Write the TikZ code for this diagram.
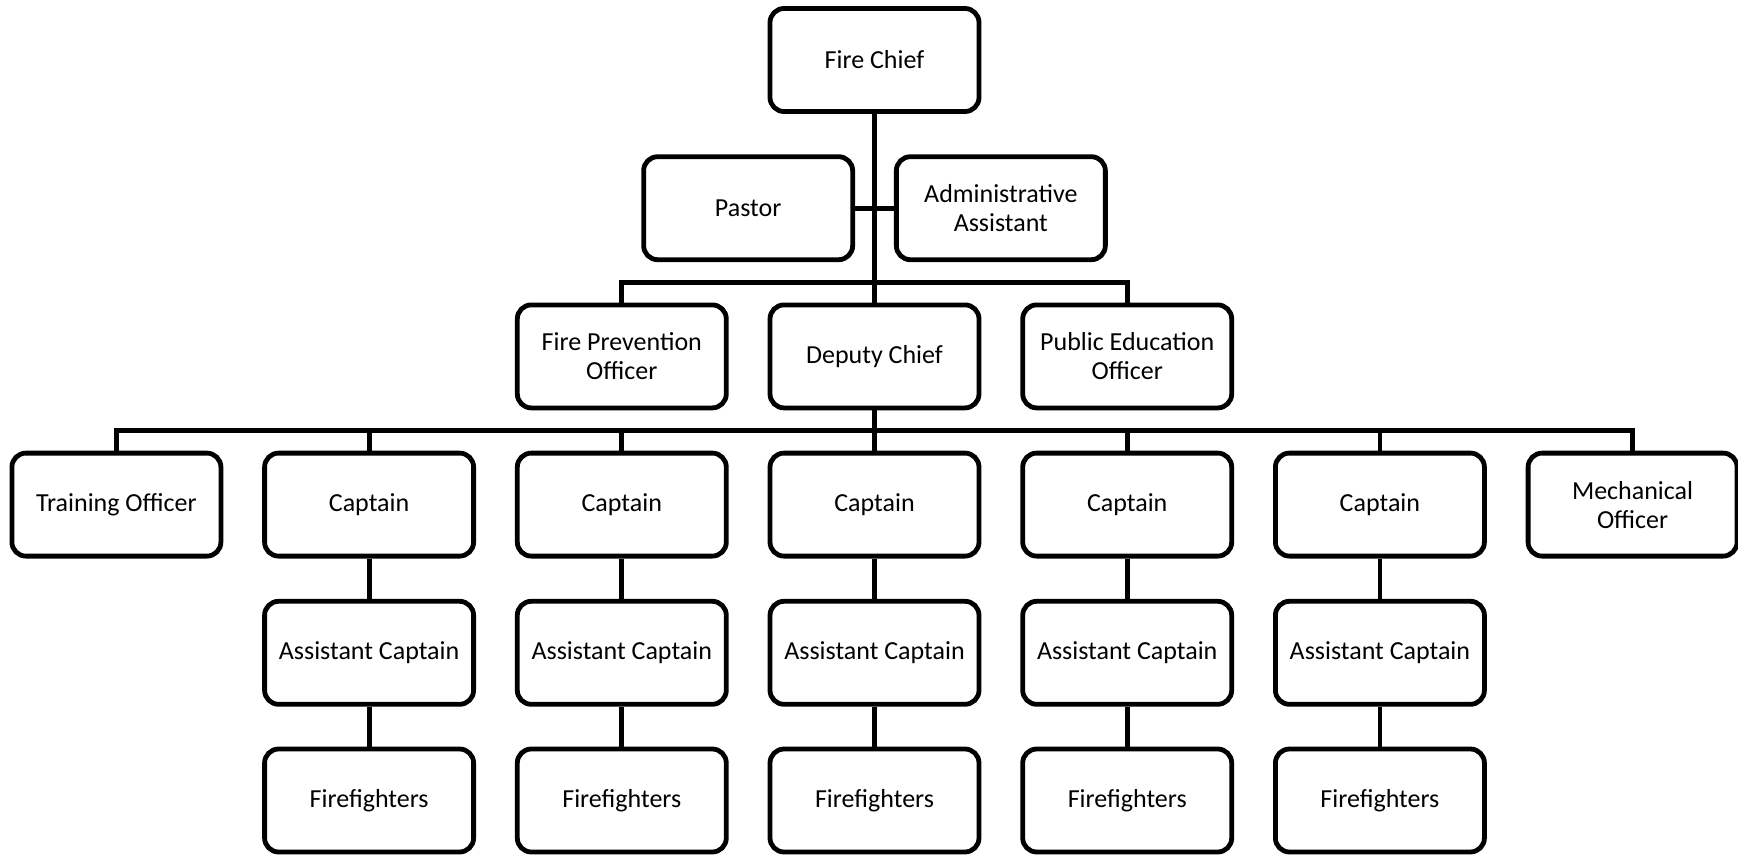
\documentclass[tikz,border=0pt]{standalone}
\usepackage{fontspec}
\setmainfont{Carlito}
\begin{document}
\begin{tikzpicture}[x=1pt,y=-1pt,
  box/.style={draw=black,line width=4.8pt,rounded corners=14pt,minimum width=209pt,minimum height=103pt,
    inner sep=2pt,align=center,font=\fontsize{26}{29}\selectfont,text=black},
  conn/.style={draw=black,line width=4.8pt}]
\useasboundingbox (0,0) rectangle (1738,856);
\def\ca{116.4}\def\cb{369.1}\def\cc{621.8}\def\cd{874.5}\def\ce{1127.2}\def\cf{1379.9}\def\cg{1632.6}
\def\ra{60}\def\rb{208.2}\def\rc{356.4}\def\rd{504.6}\def\re{652.8}\def\rf{800.5}
\node[box] (fc) at (\cd,\ra) {Fire Chief};
\node[box] (pastor) at (748.15,\rb) {Pastor};
\node[box] (admin) at (1000.85,\rb) {Administrative\\Assistant};
\node[box] (fpo) at (\cc,\rc) {Fire Prevention\\Officer};
\node[box] (dc) at (\cd,\rc) {Deputy Chief};
\node[box] (peo) at (\ce,\rc) {Public Education\\Officer};
\node[box] (train) at (\ca,\rd) {Training Officer};
\node[box] (capa) at (\cb,\rd) {Captain};
\node[box] (capb) at (\cc,\rd) {Captain};
\node[box] (capc) at (\cd,\rd) {Captain};
\node[box] (capd) at (\ce,\rd) {Captain};
\node[box] (cape) at (\cf,\rd) {Captain};
\node[box] (mech) at (\cg,\rd) {Mechanical\\Officer};
\node[box] (aca) at (\cb,\re) {Assistant Captain};
\node[box] (acb) at (\cc,\re) {Assistant Captain};
\node[box] (acc) at (\cd,\re) {Assistant Captain};
\node[box] (acd) at (\ce,\re) {Assistant Captain};
\node[box] (ace) at (\cf,\re) {Assistant Captain};
\node[box] (ffa) at (\cb,\rf) {Firefighters};
\node[box] (ffb) at (\cc,\rf) {Firefighters};
\node[box] (ffc) at (\cd,\rf) {Firefighters};
\node[box] (ffd) at (\ce,\rf) {Firefighters};
\node[box] (ffe) at (\cf,\rf) {Firefighters};
\coordinate (busa) at (\cd,282.4);
\coordinate (busb) at (\cd,430.5);
% connectors
\draw[conn] (fc.south) -- (dc.north);
\draw[conn] (pastor.east) -- (admin.west);
\draw[conn] (fpo.north) |- (busa) -| (peo.north);
\draw[conn] (dc.south) -- (busb);
\draw[conn] (train.north) |- (busb) -| (mech.north);
\foreach \n in {capa,capb,capc,capd,cape}{
  \draw[conn] (\n.north) -- (\n.north |- busb);
}
\foreach \a/\b in {capa/aca,capb/acb,capc/acc,capd/acd,cape/ace,aca/ffa,acb/ffb,acc/ffc,acd/ffd,ace/ffe}{
  \draw[conn] (\a.south) -- (\b.north);
}
\end{tikzpicture}
\end{document}
